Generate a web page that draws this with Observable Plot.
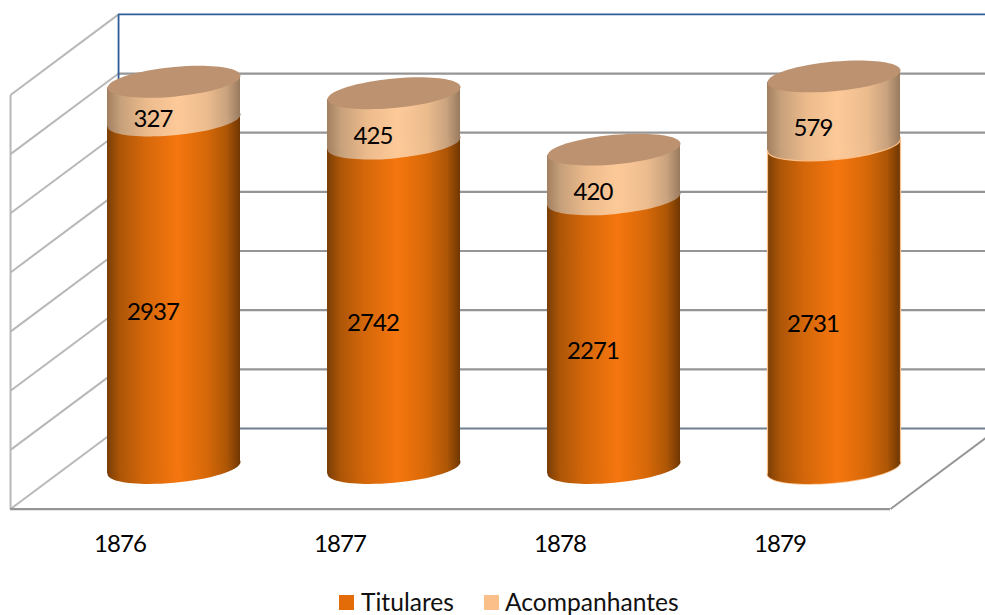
<!DOCTYPE html>
<html>
<head>
<meta charset="utf-8">
<script src="https://cdn.jsdelivr.net/npm/d3@7"></script>
<script src="https://cdn.jsdelivr.net/npm/@observablehq/plot@0.6"></script>
<style>
html,body{margin:0;padding:0;background:#fff;overflow:hidden}
#legend{position:relative;height:45px;font:24.6px Lato,sans-serif;color:#111}
#legend i{position:absolute;top:25px;width:15px;height:15px}
#legend span{position:absolute;top:18px;line-height:28px;white-space:nowrap}
#chart svg text{letter-spacing:-0.9px}
</style>
</head>
<body>
<div id="chart"></div>
<div id="legend">
  <i style="left:339px;background:#E36C09"></i><span style="left:361px">Titulares</span>
  <i style="left:484px;background:#FBC08A"></i><span style="left:505px">Acompanhantes</span>
</div>
<script>
const years = [1876, 1877, 1878, 1879];
const titulares = [2937, 2742, 2271, 2731];
const acompanhantes = [327, 425, 420, 579];
const outlinedYears = [1879];
const wallTicks = [0, 500, 1000, 1500, 2000, 2500, 3000, 3500];

// 3-D box: wall positions in x slots and depth offsets in value units
const frontLeft = -0.243, backLeft = 0.248, frontRight = 3.757, backRight = 4.248;
const backOffset = 334, frontOffset = -347;
const halfWidth = 0.3023;   // cylinder half width in x slots
const tilt = 50;            // rim tilt in value units
const radius = 66.5;

const rows = years.map((year, i) => ({
  year, slot: i + 0.5, tit: titulares[i], total: titulares[i] + acompanhantes[i], acc: acompanhantes[i]
}));
const body = (lo, hi) => rows.flatMap(d => [
  {year: d.year, x: d.slot - halfWidth, y1: lo(d) - tilt, y2: hi(d) - tilt},
  {year: d.year, x: d.slot + halfWidth, y1: lo(d) + tilt, y2: hi(d) + tilt}
]);
const outlined = body(() => 0, d => d.tit).filter(d => outlinedYears.includes(d.year));

// Tilted ellipse used as the cylinder rim
const rim = {
  draw(ctx, size) {
    const a = Math.sqrt(size / Math.PI), b = a * 0.2226, s = 0.09, k = 0.5523;
    const Y = (u, v) => v - s * u;
    ctx.moveTo(-a, Y(-a, 0));
    ctx.bezierCurveTo(-a, Y(-a, -k * b), -k * a, Y(-k * a, -b), 0, Y(0, -b));
    ctx.bezierCurveTo(k * a, Y(k * a, -b), a, Y(a, -k * b), a, Y(a, 0));
    ctx.bezierCurveTo(a, Y(a, k * b), k * a, Y(k * a, b), 0, Y(0, b));
    ctx.bezierCurveTo(-k * a, Y(-k * a, b), -a, Y(-a, k * b), -a, Y(-a, 0));
    ctx.closePath();
  }
};

const gradient = (id, stops) =>
  `<linearGradient id="${id}" x1="0" x2="1" y1="0" y2="0">` +
  stops.map(([o, c]) => `<stop offset="${o}" stop-color="${c}"/>`).join("") +
  `</linearGradient>`;
const defs = () => d3.create("svg:defs").html(
  gradient("g-tit", [[0,"#7a3e05"],[0.1,"#ad5607"],[0.28,"#d4670a"],[0.53,"#f5760f"],[0.75,"#d66808"],[0.9,"#ad5606"],[1,"#6f3703"]]) +
  gradient("g-acc", [[0,"#a27f60"],[0.1,"#c6a07a"],[0.3,"#ecbb8c"],[0.53,"#fdc999"],[0.75,"#ecbc8e"],[0.9,"#c9a27e"],[1,"#987a5e"]])
).node();

const grey = "#959595", light = "#b8b8b8", blue = "#2f5e97", slate = "#6f7f90";

const chart = Plot.plot({
  width: 985, height: 570,
  marginTop: 0, marginRight: 0, marginBottom: 0, marginLeft: 0,
  style: {fontFamily: "Lato, sans-serif", background: "transparent", color: "#000"},
  x: {domain: [0, 4], range: [63.5, 943.5], axis: null},
  y: {domain: [0, 4000], range: [467.5, -5.73], axis: null},
  marks: [
    defs,
    // left wall
    Plot.link(wallTicks, {x1: () => frontLeft, x2: () => backLeft, y1: d => d + frontOffset, y2: d => d + backOffset, stroke: light, strokeWidth: 2}),
    Plot.link([0], {x1: () => frontLeft, x2: () => frontLeft, y1: () => frontOffset, y2: () => 3500 + frontOffset, stroke: light, strokeWidth: 2}),
    // back wall
    Plot.ruleY(wallTicks.slice(1, -1), {x1: () => backLeft, x2: () => backRight, y: d => d + backOffset, stroke: grey, strokeWidth: 2.2}),
    Plot.ruleY([0], {x1: () => backLeft, x2: () => backRight, y: d => d + backOffset, stroke: slate, strokeWidth: 2.2}),
    Plot.ruleY([3500], {x1: () => backLeft, x2: () => backRight, y: d => d + backOffset, stroke: blue, strokeWidth: 1.8}),
    Plot.link([0], {x1: () => backLeft, x2: () => backLeft, y1: () => backOffset, y2: () => 3500 + backOffset, stroke: blue, strokeWidth: 1.8}),
    // floor
    Plot.ruleY([0], {x1: () => frontLeft, x2: () => frontRight, y: d => d + frontOffset, stroke: grey, strokeWidth: 2.2}),
    Plot.link([0], {x1: () => frontRight, x2: () => backRight, y1: () => frontOffset, y2: () => backOffset, stroke: grey, strokeWidth: 2}),
    // outlined base
    Plot.dot(rows.filter(d => outlinedYears.includes(d.year)), {x: "slot", y: () => 0, r: radius, symbol: rim, fill: "#FBC08A", stroke: "#FBC08A", strokeWidth: 1.6}),
    // titulares
    Plot.dot(rows, {x: "slot", y: () => 0, r: radius, symbol: rim, fill: "url(#g-tit)", stroke: "none"}),
    Plot.areaY(body(() => 0, d => d.tit), {x: "x", y1: "y1", y2: "y2", z: "year", fill: "url(#g-tit)"}),
    Plot.link(outlined, {x1: "x", x2: "x", y1: "y1", y2: "y2", stroke: "#FBC08A", strokeWidth: 1.2}),
    // acompanhantes
    Plot.dot(rows, {x: "slot", y: "tit", r: radius, symbol: rim, fill: "url(#g-acc)", stroke: "none"}),
    Plot.dot(rows.filter(d => outlinedYears.includes(d.year)), {x: "slot", y: "tit", r: radius, symbol: rim, fill: "none", stroke: "#FBC08A", strokeWidth: 1.2}),
    Plot.areaY(body(d => d.tit, d => d.total), {x: "x", y1: "y1", y2: "y2", z: "year", fill: "url(#g-acc)"}),
    Plot.dot(rows, {x: "slot", y: "total", r: radius, symbol: rim, fill: "#bd9270", stroke: "none"}),
    // labels
    Plot.text(rows, {x: "slot", y: d => d.tit / 2, text: d => String(d.tit), dx: -21, dy: 18, fontSize: 24, fill: "#000"}),
    Plot.text(rows, {x: "slot", y: d => d.tit + d.acc / 2, text: d => String(d.acc), dx: -21, dy: 18, fontSize: 24, fill: "#000"}),
    Plot.text(rows, {x: "slot", y: () => 0, text: d => String(d.year), dx: -54, dy: 76, fontSize: 24, fill: "#000"})
  ]
});
document.getElementById("chart").append(chart);
</script>
</body>
</html>
